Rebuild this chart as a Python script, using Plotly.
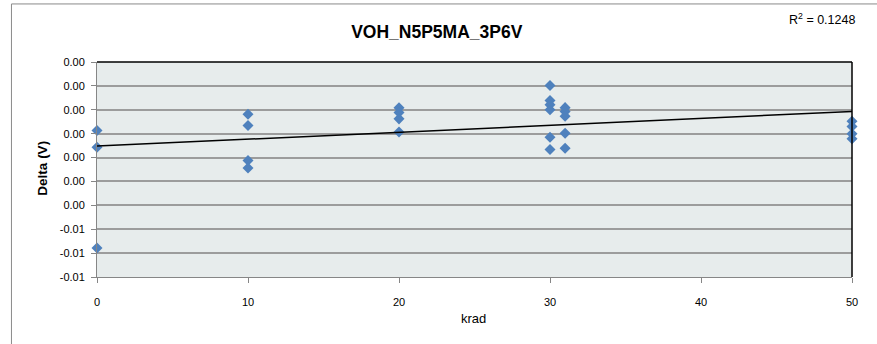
import plotly.graph_objects as go

# Data
krad = [0, 0, 0,
        10, 10, 10, 10,
        20, 20, 20, 20,
        30, 30, 30, 30, 30, 30,
        31, 31, 31, 31, 31,
        50, 50, 50, 50]
delta_v = [-0.00087, -0.00157, -0.00579,
           -0.00019, -0.00066, -0.00212, -0.00244,
           0.00008, -0.00011, -0.00038, -0.00093,
           0.00102, 0.00039, 0.00021, 0.00000, -0.00115, -0.00166,
           0.00009, -0.00007, -0.00027, -0.00098, -0.00161,
           -0.00048, -0.00070, -0.00100, -0.00121]

# Linear trendline endpoints as drawn in the reference
trend_krad = [0, 50]
trend_delta = [-0.00152, -0.00007]

y_tickvals = [-0.007, -0.006, -0.005, -0.004, -0.003, -0.002, -0.001, 0.0, 0.001, 0.002]
y_ticktext = ["-0.01", "-0.01", "-0.01", "0.00", "0.00", "0.00", "0.00", "0.00", "0.00", "0.00"]
x_tickvals = [0, 10, 20, 30, 40, 50]

title_text = "VOH_N5P5MA_3P6V"
r2_text = "R<sup>2</sup> = 0.1248"

FONT = "Liberation Sans, Arial, sans-serif"
AXIS_GRAY = "#868686"

fig = go.Figure()
fig.add_trace(go.Scatter(
    x=krad, y=delta_v, mode="markers",
    marker=dict(symbol="diamond", size=8.5, color="#4F81BD", line=dict(width=0)),
    cliponaxis=False, showlegend=False, hoverinfo="x+y"))
fig.add_trace(go.Scatter(
    x=trend_krad, y=trend_delta, mode="lines",
    line=dict(color="black", width=1.5),
    cliponaxis=False, showlegend=False, hoverinfo="skip"))

fig.update_layout(
    width=877, height=344,
    margin=dict(l=97, r=25, t=62, b=67, pad=0),
    paper_bgcolor="white",
    plot_bgcolor="#E7ECEC",
    font=dict(family=FONT, size=11, color="black"),
    title=dict(text="<b>" + title_text + "</b>", x=0.498, xanchor="center",
               y=1 - 32 / 344, yanchor="middle",
               font=dict(family=FONT, size=17.5, color="black")),
    xaxis=dict(range=[0, 50], tickvals=x_tickvals, showgrid=False, zeroline=False,
               showline=True, linecolor=AXIS_GRAY, linewidth=1,
               ticks="outside", ticklen=5, tickcolor=AXIS_GRAY,
               ticklabelstandoff=10,
               tickfont=dict(size=11, family=FONT)),
    yaxis=dict(range=[-0.007, 0.002], tickvals=y_tickvals, ticktext=y_ticktext,
               showgrid=True, gridcolor="#9C9C9C", gridwidth=1.6, zeroline=False,
               showline=True, linecolor=AXIS_GRAY, linewidth=1,
               ticks="outside", ticklen=5, tickcolor=AXIS_GRAY,
               ticklabelstandoff=4,
               tickfont=dict(size=11, family=FONT)),
    annotations=[
        dict(text=r2_text, xref="paper", yref="paper", x=1.007, y=1.20,
             xanchor="right", yanchor="middle", showarrow=False,
             font=dict(family=FONT, size=12.5)),
        dict(text="<b>Delta (V)</b>", xref="paper", yref="paper", x=-0.072, y=0.507,
             xanchor="center", yanchor="middle", textangle=-90, showarrow=False,
             font=dict(family=FONT, size=13.5)),
        dict(text="krad", xref="paper", yref="paper", x=0.499, y=-0.195,
             xanchor="center", yanchor="middle", showarrow=False,
             font=dict(family=FONT, size=13)),
    ],
    shapes=[
        # outer chart border
        dict(type="rect", xref="paper", yref="paper", x0=-0.1133, x1=1.04, y0=-0.5, y1=1.27,
             line=dict(color="#8A8A8A", width=1), fillcolor="rgba(0,0,0,0)", layer="below"),
        # plot area border (top & right)
        dict(type="line", xref="paper", yref="paper", x0=0, x1=1, y0=1, y1=1,
             line=dict(color="black", width=1.5)),
        dict(type="line", xref="paper", yref="paper", x0=1, x1=1, y0=0, y1=1,
             line=dict(color="black", width=1.5)),
    ],
)

fig.write_html("out.html",
               config={"displayModeBar": False},
               post_script="document.body.style.margin='0';document.body.style.padding='0';")
